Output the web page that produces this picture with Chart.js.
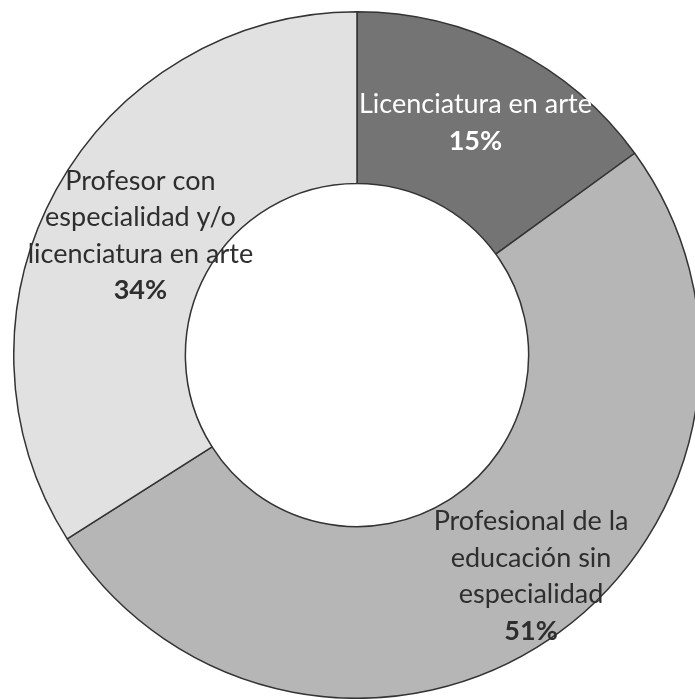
<!DOCTYPE html>
<html>
<head>
<meta charset="utf-8">
<script src="https://cdn.jsdelivr.net/npm/chart.js@4.4.0/dist/chart.umd.min.js"></script>
<style>
  html, body { margin: 0; padding: 0; background: #fff; overflow: hidden; width: 695px; height: 700px; }
  #wrap { position: absolute; left: 13px; top: 11px; width: 688px; height: 688px; }
</style>
</head>
<body>
<div id="wrap"><canvas id="donut"></canvas></div>
<script>
const categories = [
    ['Licenciatura en arte'],
    ['Profesional de la', 'educación sin', 'especialidad'],
    ['Profesor con', 'especialidad y/o', 'licenciatura en arte']
];
const shares = [15, 51, 34];
const sliceColors = ['#747474', '#b6b6b6', '#e1e1e1'];
const labelColors = ['#ffffff', '#2e2e2e', '#2e2e2e'];

// where each label sits inside its slice: fraction of outer radius, angle nudge in degrees
const labelPlace = [
    { r: 0.76, turn: 0 },
    { r: 0.82, turn: -4 },
    { r: 0.72, turn: 0 }
];

const sliceLabels = {
    id: 'sliceLabels',
    afterDatasetsDraw(chart) {
        const ctx = chart.ctx;
        const meta = chart.getDatasetMeta(0);
        const font = '"Lato", "DejaVu Sans", sans-serif';
        const size = 27, lineH = 36.5;
        meta.data.forEach((arc, i) => {
            const p = arc.getProps(['x', 'y', 'startAngle', 'endAngle', 'outerRadius'], true);
            const mid = (p.startAngle + p.endAngle) / 2 + labelPlace[i].turn * Math.PI / 180;
            const r = p.outerRadius * labelPlace[i].r;
            const cx = p.x + Math.cos(mid) * r;
            const cy = p.y + Math.sin(mid) * r;
            const lines = categories[i].concat([shares[i] + '%']);
            const top = cy - (lines.length - 1) * lineH / 2;
            ctx.save();
            ctx.textAlign = 'center';
            ctx.textBaseline = 'middle';
            ctx.fillStyle = labelColors[i];
            lines.forEach((t, k) => {
                const last = k === lines.length - 1;
                ctx.font = (last ? 'bold ' : '') + size + 'px ' + font;
                ctx.fillText(t, cx, top + k * lineH);
            });
            ctx.restore();
        });
    }
};

new Chart(document.getElementById('donut'), {
    type: 'doughnut',
    data: {
        labels: categories.map(c => c.join(' ')),
        datasets: [{
            data: shares,
            backgroundColor: sliceColors,
            borderColor: '#333333',
            borderWidth: 1.5
        }]
    },
    options: {
        responsive: true,
        maintainAspectRatio: false,
        animation: false,
        cutout: '50%',
        layout: { padding: 0 },
        plugins: { legend: { display: false }, tooltip: { enabled: false } }
    },
    plugins: [sliceLabels]
});
</script>
</body>
</html>
